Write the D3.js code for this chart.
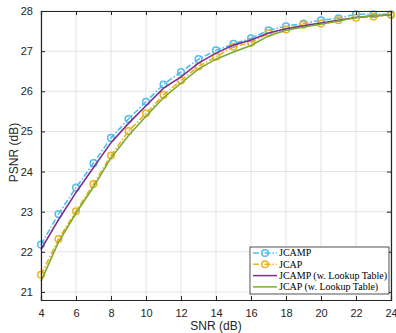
<!DOCTYPE html>
<html>
<head>
<meta charset="utf-8">
<script src="https://cdn.jsdelivr.net/npm/d3@7"></script>
<style>
  body { margin: 0; background: #fff; }
  svg { display: block; }
  .tick text { font-family: "Liberation Sans", Arial, sans-serif; font-size: 11px; fill: #262626; }
</style>
</head>
<body>
<div id="chart"></div>
<script>
const snr = [4, 5, 6, 7, 8, 9, 10, 11, 12, 13, 14, 15, 16, 17, 18, 19, 20, 21, 22, 23, 24];
const jcamp = [22.18, 22.94, 23.60, 24.21, 24.84, 25.31, 25.74, 26.17, 26.48, 26.80, 27.02, 27.18, 27.32, 27.52, 27.62, 27.69, 27.77, 27.82, 27.92, 27.92, 27.92];
const jcap = [21.43, 22.32, 23.01, 23.69, 24.40, 25.01, 25.45, 25.91, 26.27, 26.62, 26.86, 27.11, 27.21, 27.45, 27.54, 27.66, 27.69, 27.77, 27.83, 27.86, 27.90];
const jcampLut = [22.06, 22.80, 23.48, 24.10, 24.72, 25.20, 25.64, 26.08, 26.36, 26.70, 26.95, 27.15, 27.28, 27.45, 27.56, 27.63, 27.70, 27.77, 27.84, 27.88, 27.90];
const jcapLut = [21.27, 22.24, 22.96, 23.62, 24.34, 24.90, 25.38, 25.84, 26.20, 26.56, 26.80, 26.98, 27.14, 27.38, 27.52, 27.60, 27.67, 27.75, 27.84, 27.88, 27.90];
const xTicks = [4, 6, 8, 10, 12, 14, 16, 18, 20, 22, 24];
const yTicks = [21, 22, 23, 24, 25, 26, 27, 28];

const series = [
  { name: 'JCAMP', values: jcamp, color: '#4DBEEE', dash: '6,2,1.5,2', marker: true },
  { name: 'JCAP', values: jcap, color: '#EDB120', dash: '6,2,1.5,2', marker: true },
  { name: 'JCAMP (w. Lookup Table)', values: jcampLut, color: '#7E2F8E', dash: null, marker: false },
  { name: 'JCAP (w. Lookup Table)', values: jcapLut, color: '#77AC30', dash: null, marker: false }
];

const W = 396, H = 333;
const margin = { top: 11, right: 5, bottom: 33, left: 41 };
const width = W - margin.left - margin.right;
const height = H - margin.top - margin.bottom;

const svg = d3.select('#chart').append('svg')
  .attr('width', W)
  .attr('height', H);

const g = svg.append('g').attr('transform', `translate(${margin.left},${margin.top})`);

const x = d3.scaleLinear().domain([4, 24]).range([0, width]);
const y = d3.scaleLinear().domain([20.8, 28]).range([height, 0]);

// grid
g.append('g').selectAll('line').data(xTicks).enter().append('line')
  .attr('x1', d => x(d)).attr('x2', d => x(d))
  .attr('y1', 0).attr('y2', height)
  .attr('stroke', '#e3e3e3').attr('stroke-width', 1);
g.append('g').selectAll('line').data(yTicks).enter().append('line')
  .attr('x1', 0).attr('x2', width)
  .attr('y1', d => y(d)).attr('y2', d => y(d))
  .attr('stroke', '#e3e3e3').attr('stroke-width', 1);

const line = d3.line()
  .x((d, i) => x(snr[i]))
  .y(d => y(d));

series.forEach(s => {
  g.append('path')
    .datum(s.values)
    .attr('fill', 'none')
    .attr('stroke', s.color)
    .attr('stroke-width', 1.6)
    .attr('stroke-dasharray', s.dash)
    .attr('d', line);
  if (s.marker) {
    g.append('g').selectAll('circle').data(s.values).enter().append('circle')
      .attr('cx', (d, i) => x(snr[i]))
      .attr('cy', d => y(d))
      .attr('r', 3.3)
      .attr('fill', 'none')
      .attr('stroke', s.color)
      .attr('stroke-width', 1.5);
  }
});

// axes (box with inward ticks)
const axisColor = '#262626';
const xAxis = g.append('g')
  .attr('transform', `translate(0,${height})`)
  .call(d3.axisBottom(x).tickValues(xTicks).tickSize(-4).tickPadding(9).tickFormat(d3.format('d')));
const xTop = g.append('g')
  .call(d3.axisTop(x).tickValues(xTicks).tickSize(-4).tickFormat(''));
const yAxis = g.append('g')
  .call(d3.axisLeft(y).tickValues(yTicks).tickSize(-4).tickPadding(8).tickFormat(d3.format('d')));
const yRight = g.append('g')
  .attr('transform', `translate(${width},0)`)
  .call(d3.axisRight(y).tickValues(yTicks).tickSize(-4).tickFormat(''));

[xAxis, xTop, yAxis, yRight].forEach(a => {
  a.selectAll('.domain').attr('stroke', axisColor).attr('stroke-width', 1.2);
  a.selectAll('.tick line').attr('stroke', axisColor);
});

svg.append('text')
  .attr('x', margin.left + width / 2)
  .attr('y', H - 3)
  .attr('text-anchor', 'middle')
  .style('font-family', '"Liberation Sans", Arial, sans-serif')
  .style('font-size', '12px')
  .attr('fill', '#262626')
  .text('SNR (dB)');

svg.append('text')
  .attr('transform', `translate(18,${margin.top + height / 2 - 3}) rotate(-90)`)
  .attr('text-anchor', 'middle')
  .style('font-family', '"Liberation Sans", Arial, sans-serif')
  .style('font-size', '12px')
  .attr('fill', '#262626')
  .text('PSNR (dB)');

// legend
const lg = svg.append('g').attr('transform', 'translate(250,247)');
lg.append('rect')
  .attr('width', 139).attr('height', 47)
  .attr('fill', '#fff')
  .attr('stroke', '#262626')
  .attr('stroke-width', 0.8);

series.forEach((s, i) => {
  const row = lg.append('g').attr('transform', `translate(0,${6 + i * 11.3})`);
  row.append('line')
    .attr('x1', 3).attr('x2', 27)
    .attr('y1', 0).attr('y2', 0)
    .attr('stroke', s.color)
    .attr('stroke-width', 1.5)
    .attr('stroke-dasharray', s.dash);
  if (s.marker) {
    row.append('circle')
      .attr('cx', 15).attr('cy', 0).attr('r', 3.3)
      .attr('fill', 'none')
      .attr('stroke', s.color)
      .attr('stroke-width', 1.5);
  }
  row.append('text')
    .attr('x', 29).attr('y', 3.4)
    .style('font-family', '"Liberation Serif", "DejaVu Serif", serif')
    .style('font-size', '10px')
    .attr('fill', '#000')
    .text(s.name);
});
</script>
</body>
</html>
